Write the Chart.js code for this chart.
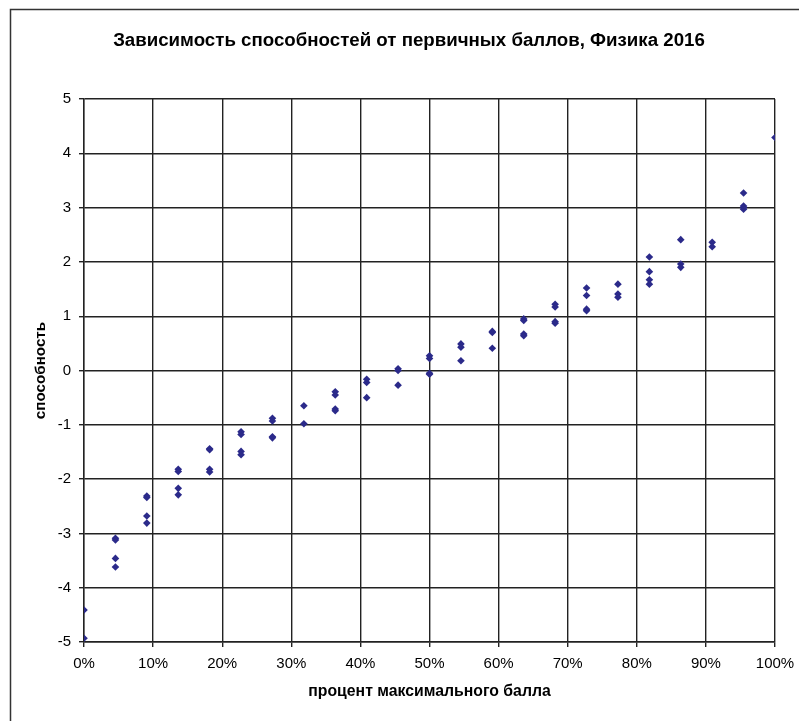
<!DOCTYPE html>
<html>
<head>
<meta charset="utf-8">
<script src="https://cdn.jsdelivr.net/npm/chart.js@4.4.1/dist/chart.umd.min.js"></script>
<style>
  html, body { margin: 0; padding: 0; background: #fff; }
  #wrap { width: 799px; height: 721px; position: relative; }
</style>
</head>
<body>
<div id="wrap"><canvas id="chart"></canvas></div>
<script>
// процент максимального балла (первичный балл / 22)
const percentLevels = [0, 4.55, 9.09, 13.64, 18.18, 22.73, 27.27, 31.82, 36.36, 40.91, 45.45,
  50, 54.55, 59.09, 63.64, 68.18, 72.73, 77.27, 81.82, 86.36, 90.91, 95.45, 100];

// способность для каждого уровня (несколько вариантов)
const abilityByLevel = [
  [-4.41, -4.93],
  [-3.09, -3.12, -3.46, -3.62],
  [-2.31, -2.34, -2.68, -2.81],
  [-1.82, -1.86, -2.17, -2.29],
  [-1.44, -1.46, -1.82, -1.87],
  [-1.13, -1.18, -1.49, -1.55],
  [-0.88, -0.93, -1.22, -1.24],
  [-0.65, -0.98],
  [-0.39, -0.45, -0.71, -0.74],
  [-0.16, -0.22, -0.50],
  [0.03, 0.0, -0.27],
  [0.27, 0.22, -0.05, -0.07],
  [0.49, 0.43, 0.18],
  [0.72, 0.70, 0.41],
  [0.95, 0.92, 0.67, 0.64],
  [1.22, 1.17, 0.90, 0.87],
  [1.52, 1.38, 1.13, 1.10],
  [1.59, 1.41, 1.35],
  [2.09, 1.82, 1.67, 1.59],
  [2.41, 1.96, 1.90],
  [2.36, 2.28],
  [3.27, 3.03, 2.97, 3.00],
  [4.29]
];

const chartTitle = "Зависимость способностей от первичных баллов, Физика 2016";
const xTitle = "процент максимального балла";
const yTitle = "способность";

const points = [];
percentLevels.forEach((p, i) => {
  abilityByLevel[i].forEach(v => points.push({ x: p, y: v }));
});

const FONT = "'Liberation Sans', Arial, sans-serif";

// рамка и заголовок как в Excel
const frame = {
  id: "frame",
  beforeDraw(chart) {
    const ctx = chart.ctx;
    ctx.save();
    ctx.fillStyle = "#fff";
    ctx.fillRect(0, 0, chart.width, chart.height);
    ctx.strokeStyle = "#333";
    ctx.lineWidth = 1.5;
    ctx.strokeRect(10.5, 9.5, 820, 800);
    ctx.restore();
  },
  afterDraw(chart) {
    const ctx = chart.ctx;
    ctx.save();
    ctx.fillStyle = "#000";
    ctx.font = "bold 18.7px " + FONT;
    ctx.textAlign = "center";
    ctx.textBaseline = "middle";
    ctx.fillText(chartTitle, 409, 41);
    ctx.restore();
  }
};

new Chart(document.getElementById("chart"), {
  type: "scatter",
  data: {
    datasets: [{
      data: points,
      pointStyle: "rectRot",
      pointRadius: 3.8,
      pointHoverRadius: 3.8,
      backgroundColor: "#2b2a8a",
      borderColor: "#2b2a8a",
      borderWidth: 0
    }]
  },
  options: {
    responsive: true,
    maintainAspectRatio: false,
    animation: false,
    layout: { padding: { top: 99, right: 24, bottom: 0, left: 0 } },
    plugins: { legend: { display: false }, tooltip: { enabled: false } },
    scales: {
      x: {
        type: "linear",
        min: 0, max: 100,
        afterFit: s => { s.height = 79; s.paddingLeft = 0; s.paddingRight = 0; },
        ticks: {
          stepSize: 10,
          color: "#000",
          padding: 8,
          font: { family: FONT, size: 15 },
          callback: v => v + "%"
        },
        grid: { color: "#222", lineWidth: 1.4, tickLength: 5 },
        border: { color: "#222", width: 1.4 },
        title: {
          display: true, text: xTitle, color: "#000",
          font: { family: FONT, size: 15.8, weight: "bold" },
          padding: { top: 0, bottom: 20 }
        }
      },
      y: {
        min: -5, max: 5,
        afterFit: s => { s.width = 84; },
        ticks: {
          stepSize: 1,
          color: "#000",
          padding: 8,
          font: { family: FONT, size: 15 }
        },
        grid: { color: "#222", lineWidth: 1.4, tickLength: 5 },
        border: { color: "#222", width: 1.4 },
        title: {
          display: true, text: yTitle, color: "#000",
          font: { family: FONT, size: 15.2, weight: "bold" },
          padding: { top: 32, bottom: 0 }
        }
      }
    }
  },
  plugins: [frame]
});
</script>
</body>
</html>
